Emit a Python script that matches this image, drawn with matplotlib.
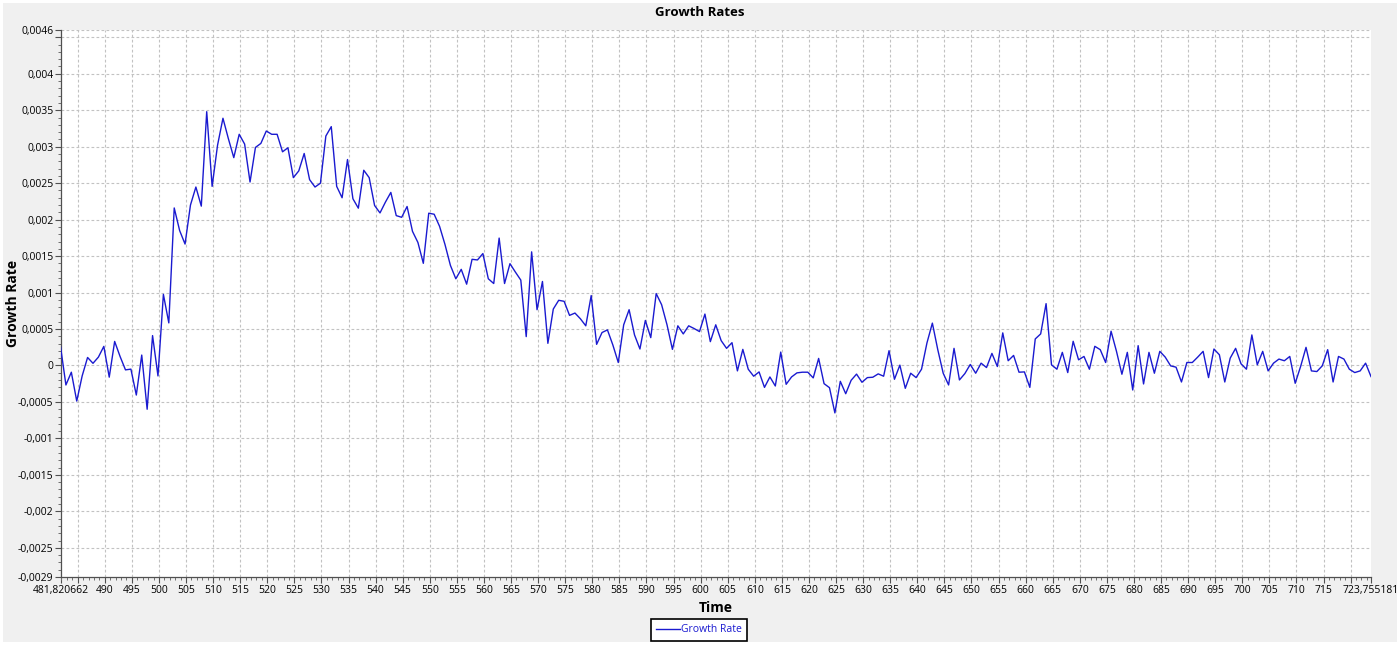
import matplotlib
matplotlib.use("Agg")
import matplotlib.pyplot as plt
from matplotlib.ticker import FixedLocator, FixedFormatter, MultipleLocator
from matplotlib.patches import Rectangle
import numpy as np

plt.rcParams['font.family'] = ['Open Sans', 'DejaVu Sans']

# ---------------- data ----------------
title = "Growth Rates"
x_label = "Time"
y_label = "Growth Rate"
series_name = "Growth Rate"

time_start = 481.820662
time_end = 723.755181

growth_rate = [
    0.000262, -0.000267, -0.000092, -0.000488, -0.000143, 0.000110, 0.000030, 0.000115, 0.000262, -0.000160,
    0.000330, 0.000124, -0.000060, -0.000050, -0.000405, 0.000143, -0.000600, 0.000410, -0.000143, 0.000975,
    0.000584, 0.002160, 0.001850, 0.001665, 0.002200, 0.002447, 0.002185, 0.003480, 0.002456, 0.003020,
    0.003390, 0.003110, 0.002850, 0.003170, 0.003036, 0.002516, 0.002990, 0.003045, 0.003215, 0.003170,
    0.003170, 0.002930, 0.002985, 0.002576, 0.002668, 0.002907, 0.002548, 0.002447, 0.002500, 0.003146,
    0.003275, 0.002456, 0.002300, 0.002824, 0.002286, 0.002157, 0.002677, 0.002576, 0.002194, 0.002092,
    0.002240, 0.002373, 0.002055, 0.002032, 0.002180, 0.001839, 0.001687, 0.001401, 0.002088, 0.002074,
    0.001908, 0.001659, 0.001373, 0.001189, 0.001318, 0.001115, 0.001456, 0.001447, 0.001535, 0.001189,
    0.001124, 0.001747, 0.001124, 0.001396, 0.001281, 0.001171, 0.000396, 0.001558, 0.000765, 0.001152,
    0.000304, 0.000774, 0.000894, 0.000880, 0.000687, 0.000719, 0.000641, 0.000544, 0.000959, 0.000290,
    0.000452, 0.000488, 0.000281, 0.000041, 0.000558, 0.000765, 0.000419, 0.000226, 0.000618, 0.000382,
    0.000986, 0.000834, 0.000558, 0.000221, 0.000544, 0.000433, 0.000544, 0.000507, 0.000465, 0.000705,
    0.000327, 0.000558, 0.000341, 0.000235, 0.000313, -0.000074, 0.000221, -0.000051, -0.000147, -0.000088,
    -0.000300, -0.000157, -0.000281, 0.000184, -0.000258, -0.000157, -0.000101, -0.000092, -0.000092, -0.000170,
    0.000097, -0.000249, -0.000304, -0.000650, -0.000217, -0.000387, -0.000203, -0.000118, -0.000230, -0.000166,
    -0.000161, -0.000115, -0.000147, 0.000203, -0.000189, 0.000005, -0.000313, -0.000106, -0.000166, -0.000051,
    0.000309, 0.000581, 0.000217, -0.000106, -0.000267, 0.000235, -0.000198, -0.000111, 0.000014, -0.000106,
    0.000032, -0.000028, 0.000166, -0.000014, 0.000447, 0.000065, 0.000138, -0.000092, -0.000088, -0.000300,
    0.000364, 0.000433, 0.000848, 0.000009, -0.000051, 0.000180, -0.000097, 0.000332, 0.000078, 0.000124,
    -0.000051, 0.000263, 0.000217, 0.000041, 0.000470, 0.000194, -0.000120, 0.000180, -0.000336, 0.000272,
    -0.000253, 0.000180, -0.000106, 0.000194, 0.000115, -0.000005, -0.000023, -0.000226, 0.000041, 0.000041,
    0.000115, 0.000194, -0.000166, 0.000226, 0.000147, -0.000226, 0.000101, 0.000235, 0.000023, -0.000051,
    0.000419, 0.000009, 0.000194, -0.000074, 0.000032, 0.000088, 0.000065, 0.000124, -0.000244, -0.000014,
    0.000249, -0.000074, -0.000083, -0.000005, 0.000217, -0.000226, 0.000124, 0.000088, -0.000051, -0.000097,
    -0.000074, 0.000032, -0.000152,
]

x_ticks = [481.820662, 485, 490, 495, 500, 505, 510, 515, 520, 525, 530, 535, 540, 545, 550, 555, 560,
           565, 570, 575, 580, 585, 590, 595, 600, 605, 610, 615, 620, 625, 630, 635, 640, 645, 650,
           655, 660, 665, 670, 675, 680, 685, 690, 695, 700, 705, 710, 715, 720, 723.755181]
x_tick_labels = ["481,820662", "", "490", "495", "500", "505", "510", "515", "520", "525", "530", "535",
                 "540", "545", "550", "555", "560", "565", "570", "575", "580", "585", "590", "595",
                 "600", "605", "610", "615", "620", "625", "630", "635", "640", "645", "650", "655",
                 "660", "665", "670", "675", "680", "685", "690", "695", "700", "705", "710", "715",
                 "", "723,755181"]

y_ticks = [-0.0029, -0.0025, -0.002, -0.0015, -0.001, -0.0005, 0.0, 0.0005, 0.001, 0.0015,
           0.002, 0.0025, 0.003, 0.0035, 0.004, 0.0045, 0.0046]
y_tick_labels = ["-0,0029", "-0,0025", "-0,002", "-0,0015", "-0,001", "-0,0005", "0", "0,0005",
                 "0,001", "0,0015", "0,002", "0,0025", "0,003", "0,0035", "0,004", "", "0,0046"]

# ---------------- figure ----------------
W, H = 1400, 645
fig = plt.figure(figsize=(W / 100, H / 100), dpi=100, facecolor="white")
fig.patches.append(Rectangle((3 / W, 3 / H), (W - 6) / W, (H - 6) / H, transform=fig.transFigure,
                             facecolor="#F0F0F0", edgecolor="none", zorder=-10))

left, right, top, bottom = 60.5, 1371, 30, 577
ax = fig.add_axes([left / W, 1 - bottom / H, (right - left) / W, (bottom - top) / H])
ax.set_facecolor("white")

time = np.linspace(time_start, time_end, len(growth_rate))
line, = ax.plot(time, growth_rate, color="#1a1ad0", lw=1.0, label=series_name, zorder=3)

ax.set_xlim(time_start, time_end)
ax.set_ylim(y_ticks[0], y_ticks[-1])

ax.xaxis.set_major_locator(FixedLocator(x_ticks))
ax.xaxis.set_major_formatter(FixedFormatter(x_tick_labels))
ax.xaxis.set_minor_locator(MultipleLocator(1))
ax.yaxis.set_major_locator(FixedLocator(y_ticks))
ax.yaxis.set_major_formatter(FixedFormatter(y_tick_labels))
ax.yaxis.set_minor_locator(MultipleLocator(0.0001))

ax.grid(True, which="major", color="#C2C2C2", linestyle=(0, (2.5, 2)), linewidth=0.8, zorder=1)
xg = ax.get_xgridlines()
xg[0].set_visible(False)
xg[-1].set_visible(False)
ax.get_ygridlines()[0].set_visible(False)

for s in ("top", "right"):
    ax.spines[s].set_visible(False)
for s in ("left", "bottom"):
    ax.spines[s].set_color("#505050")
    ax.spines[s].set_linewidth(0.9)

ax.tick_params(axis="both", which="major", direction="out", length=4, width=0.8,
               color="#505050", labelsize=7.5, labelcolor="black")
ax.tick_params(axis="both", which="minor", direction="out", length=2.5, width=0.7, color="#707070")
ax.tick_params(axis="x", which="major", pad=1.5)
ax.tick_params(axis="y", which="major", pad=1)

fig.text(0.5, 1 - 13 / H, title, ha="center", va="center", fontsize=9.5, fontweight="bold")
fig.text((left + right) / 2 / W, 1 - 608 / H, x_label, ha="center", va="center",
         fontsize=10, fontweight="bold")
fig.text(13 / W, 1 - (top + bottom) / 2 / H, y_label, ha="center", va="center",
         rotation=90, fontsize=10, fontweight="bold")

leg = fig.legend(handles=[line], labels=[series_name], loc="center",
                 bbox_to_anchor=(699 / W, 1 - 630 / H), fontsize=7.5, frameon=True,
                 fancybox=False, edgecolor="black", facecolor="white", framealpha=1,
                 handlelength=2.3, handletextpad=0.05, borderpad=0.5, borderaxespad=0)
leg.get_frame().set_linewidth(1.2)
for t in leg.get_texts():
    t.set_color("#1a1ad0")

fig.savefig("out.png", dpi=100, facecolor=fig.get_facecolor())
